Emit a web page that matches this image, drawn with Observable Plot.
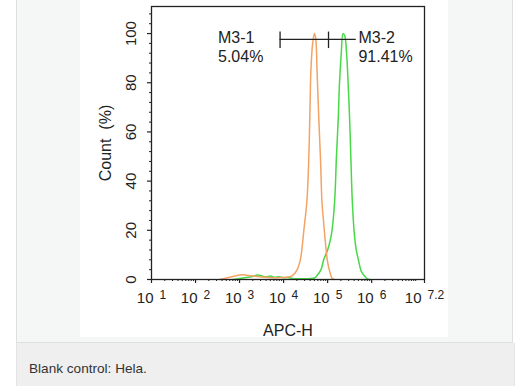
<!DOCTYPE html>
<html><head><meta charset="utf-8">
<script src="https://cdn.jsdelivr.net/npm/d3@7"></script>
<script src="https://cdn.jsdelivr.net/npm/@observablehq/plot@0.6"></script>
<style>
body{margin:0;background:#fff;width:530px;height:386px;overflow:hidden;position:relative;font-family:Arial,"Liberation Sans",Helvetica,sans-serif;}
#card{position:absolute;left:16px;top:-1px;width:495px;height:342px;background:#f5f7f7;border:1px solid #dfdfdf;}
#fig{position:absolute;left:80px;top:0;width:368px;height:337px;background:#fff;}
#cap{position:absolute;left:16px;top:343px;width:485px;height:50px;background:#efefef;border-left:1px solid #e4e4e4;border-right:1px solid #e4e4e4;padding-left:12px;font-size:13.6px;color:#333;line-height:52px;}
</style></head>
<body>
<div id="card"></div>
<div id="fig"></div>
<div id="cap">Blank control: Hela.</div>
<script>
// Blank control (orange) histogram: log10(APC-H) and Count (%)
const blankExp   = [2.55,2.7,2.85,3.0,3.1,3.2,3.35,3.5,3.65,3.8,3.95,4.1,4.2,4.3,4.38,4.46,4.53,4.57,4.6,4.62,4.66,4.7,4.73,4.76,4.8,4.84,4.87,4.9,4.95,5.0,5.06,5.1,5.15];
const blankCount = [0,0.6,1.2,1.8,1.9,1.6,1.3,1.0,0.8,0.7,0.8,1.0,1.6,3.7,8,20,32,48,70,85,96,100,98,85,65,48,32,25,15,7,2.5,0.5,0];
// Stained (green) histogram
const stainExp   = [2.85,3.0,3.15,3.3,3.4,3.5,3.6,3.7,3.8,3.9,4.0,4.1,4.2,4.35,4.5,4.6,4.7,4.76,4.85,4.91,5.0,5.06,5.1,5.16,5.2,5.24,5.27,5.31,5.35,5.39,5.43,5.46,5.5,5.53,5.56,5.6,5.65,5.7,5.76,5.83,5.9,5.95];
const stainCount = [0,0.4,0.8,1.2,1.8,1.5,1.0,1.4,0.9,1.1,0.7,0.8,0.4,0.3,0.3,0.4,0.6,1.6,4,8,12,16,20,32,50,65,80,92,100,99,92,82,65,48,32,20,12,8,3.5,1.6,0.3,0];
// axis ticks (exponents of 10) and count ticks
const xMajorExp = [1,2,3,4,5,6,7.2];
const yMajor = [0,20,40,60,80,100];
// gates
const gateNames = ["M3-1","M3-2"];
const gatePercents = ["5.04%","91.41%"];
const gateBoundsExp = [3.92,5.02];
const gateEndExp = 5.65;
const gateLevel = 97.6;
const gateLabelExp = [2.51,5.70];

const xMinor = [];
for (let k = 1; k <= 6; k++) for (let m = 2; m <= 9; m++) xMinor.push(m * 10 ** k);
xMinor.push(1e7);
const yMinor = d3.range(4, 111, 4).filter(v => v % 20 !== 0);
const xMajor = xMajorExp.map(e => 10 ** e);

const blank = blankExp.map((e, i) => ({x: 10 ** e, y: blankCount[i]}));
const stain = stainExp.map((e, i) => ({x: 10 ** e, y: stainCount[i]}));
const ink = "#222";
const font = "Arial, 'Liberation Sans', Helvetica, sans-serif";
const yMax = 111;
const tickLen = -4 * yMax / 273; // 4px below the baseline, in count units

const svg = Plot.plot({
  width: 368, height: 337,
  marginLeft: 71, marginRight: 24, marginTop: 6, marginBottom: 58,
  style: {fontFamily: font, background: "transparent", color: ink, overflow: "visible"},
  x: {type: "log", domain: [10, 10 ** 7.2]},
  y: {domain: [0, yMax]},
  marks: [
    Plot.line(stain, {x: "x", y: "y", stroke: "#48d848", strokeWidth: 1.5, curve: "catmull-rom"}),
    Plot.line(blank, {x: "x", y: "y", stroke: "#f3a364", strokeWidth: 1.5, curve: "catmull-rom"}),
    Plot.frame({stroke: ink, strokeWidth: 1.3}),
    Plot.axisY(yMinor, {tickSize: 2, tickFormat: () => "", label: null, strokeWidth: 1}),
    Plot.axisY(yMajor, {tickSize: 4, tickFormat: () => "", label: null, strokeWidth: 1.2}),
    Plot.text(yMajor, {y: d => d, text: d => String(d), frameAnchor: "left", dx: -20, rotate: -90,
      textAnchor: "middle", lineAnchor: "middle", fontSize: 15, fill: ink}),
    Plot.axisX(xMinor, {tickSize: 2, tickFormat: () => "", label: null, strokeWidth: 1}),
    Plot.ruleX(xMajor, {x: d => d, y1: 0, y2: tickLen, stroke: ink, strokeWidth: 1.2, clip: false}),
    Plot.text(xMajor, {x: d => d, text: d => "10^" + (Math.round(Math.log10(d) * 10) / 10),
      frameAnchor: "bottom", dy: 13, lineAnchor: "top", fontSize: 15, fill: ink}),
    Plot.text(["APC-H"], {frameAnchor: "bottom", dy: 51, lineAnchor: "middle", fontSize: 16, fill: ink}),
    Plot.text(["Count  (%)"], {frameAnchor: "left", dx: -46, rotate: -90, textAnchor: "middle", lineAnchor: "middle", fontSize: 16, fill: ink}),
    Plot.ruleY([gateLevel], {x1: 10 ** gateBoundsExp[0], x2: 10 ** gateEndExp, stroke: ink, strokeWidth: 1.3}),
    Plot.ruleX(gateBoundsExp.map(e => 10 ** e), {y1: 93.9, y2: 100.6, stroke: ink, strokeWidth: 1.3}),
    Plot.text(gateNames, {x: (d, i) => 10 ** gateLabelExp[i], y: 98.2, text: d => d, textAnchor: "start",
      lineAnchor: "middle", fontSize: 16, fill: ink}),
    Plot.text(gatePercents, {x: (d, i) => 10 ** gateLabelExp[i], y: 90.6, text: d => d, textAnchor: "start",
      lineAnchor: "middle", fontSize: 16, fill: ink})
  ]
});

// render "10^k" tick labels as 10 with a superscript exponent
d3.select(svg).selectAll("text").each(function () {
  const parts = this.textContent.split("^");
  if (parts.length === 2) {
    const s = d3.select(this);
    s.text(parts[0]);
    s.append("tspan").attr("dx", "0.5em").attr("dy", "-0.38em").attr("font-size", "12px").text(parts[1]);
  }
});
document.getElementById("fig").appendChild(svg);
</script>
</body></html>
